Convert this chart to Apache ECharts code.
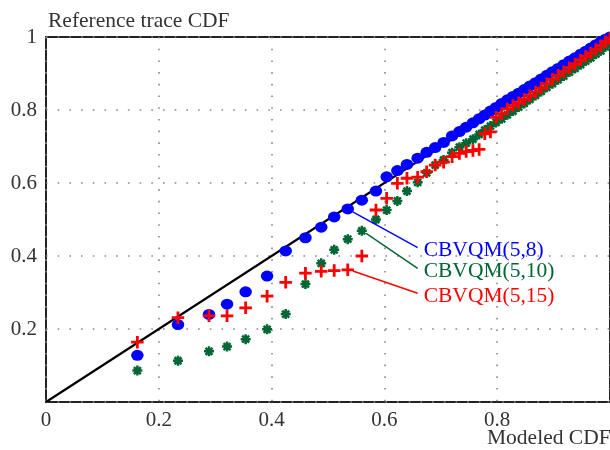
<!DOCTYPE html>
<html>
<head>
<meta charset="utf-8">
<script src="https://cdn.jsdelivr.net/npm/echarts@6/dist/echarts.min.js"></script>
<style>
html,body{margin:0;padding:0;background:#fff;}
#chart{width:610px;height:450px;}
</style>
</head>
<body>
<div id="chart"></div>
<script>
// Modeled CDF (x) positions shared by all three series
var modeledCdf = [0.162,0.234,0.289,0.321,0.354,0.392,0.425,0.460,0.488,0.511,0.535,0.560,0.585,0.604,0.623,0.640,0.659,0.675,0.690,0.705,0.720,
  0.733,0.745,0.757,0.768,0.778,0.788,0.798,0.808,0.818,0.828,0.838,0.848,0.858,0.868,0.878,0.888,0.898,0.908,0.918,0.928,0.938,0.948,0.957,0.966,0.975,0.984,0.992,1.000];
// Reference trace CDF (y) for each model
var cbvqm5_8 = [0.128,0.212,0.240,0.268,0.302,0.345,0.414,0.450,0.479,0.507,0.529,0.553,0.578,0.617,0.634,0.651,0.668,0.684,0.697,0.711,0.729,
  0.741,0.753,0.765,0.776,0.786,0.797,0.807,0.818,0.828,0.837,0.846,0.856,0.866,0.875,0.885,0.895,0.905,0.914,0.924,0.934,0.943,0.953,0.961,0.970,0.979,0.987,0.994,1.000];
var cbvqm5_10 = [0.086,0.113,0.139,0.152,0.172,0.199,0.241,0.323,0.380,0.417,0.446,0.469,0.500,0.526,0.551,0.578,0.602,0.628,0.649,0.663,0.683,
  0.698,0.709,0.720,0.733,0.745,0.756,0.766,0.776,0.787,0.797,0.808,0.818,0.829,0.840,0.851,0.862,0.872,0.883,0.893,0.904,0.914,0.924,0.934,0.943,0.953,0.962,0.973,0.985];
var cbvqm5_15 = [0.164,0.231,0.236,0.236,0.258,0.290,0.328,0.353,0.358,0.360,0.362,0.400,0.526,0.558,0.599,0.613,0.616,0.631,0.649,0.657,0.672,
  0.681,0.686,0.689,0.692,0.735,0.740,0.780,0.790,0.803,0.812,0.820,0.829,0.839,0.849,0.860,0.872,0.884,0.895,0.905,0.916,0.926,0.937,0.947,0.956,0.966,0.976,0.987,0.996];
// Reference diagonal y = x
var diagonal = [[0,0],[1,1]];
// Series names and label leader lines (start point on series, end point at label)
var seriesNames = ['CBVQM(5,8)','CBVQM(5,10)','CBVQM(5,15)'];
var leaderStart = [[0.544,0.521],[0.5676,0.462],[0.544,0.359]];
var leaderEnd = [[0.659,0.423],[0.659,0.366],[0.659,0.298]];
var xTicks = [0,0.2,0.4,0.6,0.8,1];
var yTicks = [0,0.2,0.4,0.6,0.8,1];

var colors = ['#0000ff','#006633','#ff0000'];
var FONT = '"Liberation Serif","Times New Roman",serif';

function zip(xs, ys){ return xs.map(function(x,i){ return [x, ys[i]]; }); }

var chart = echarts.init(document.getElementById('chart'), null, {renderer:'canvas'});

var series = [
  {type:'line', data:diagonal, symbol:'none', lineStyle:{color:'#000', width:2.2}, silent:true, z:2},
  {type:'scatter', name:seriesNames[0], data:zip(modeledCdf, cbvqm5_8),
   symbol:'path://M0,5 A6,5 0 1,1 12,5 A6,5 0 1,1 0,5 Z', symbolSize:[12.5,11], symbolKeepAspect:false,
   itemStyle:{color:colors[0], opacity:1}, z:3},
  {type:'scatter', name:seriesNames[1], data:zip(modeledCdf, cbvqm5_10),
   symbol:'path://M5 0 L5 10 M0 5 L10 5 M1.5 1.5 L8.5 8.5 M8.5 1.5 L1.5 8.5', symbolSize:10,
   itemStyle:{color:colors[1], borderColor:colors[1], borderWidth:2.5, opacity:1}, z:3},
  {type:'scatter', name:seriesNames[2], data:zip(modeledCdf, cbvqm5_15),
   symbol:'path://M0 6 L12 6 M6 0 L6 12', symbolSize:12.5,
   itemStyle:{color:colors[2], borderColor:colors[2], borderWidth:2.8, opacity:1}, z:3}
];
for (var i=0;i<3;i++){
  series.push({
    type:'line', silent:true, z:4,
    data:[
      {value:leaderStart[i], symbolSize:0},
      {value:leaderEnd[i], symbolSize:0,
       label:{show:true, position:'right', distance:6, offset:[0,3], formatter:seriesNames[i],
              color:colors[i], fontFamily:FONT, fontSize:21.5}}
    ],
    symbol:'circle', symbolSize:0, showSymbol:true,
    lineStyle:{color:colors[i], width:1.4}
  });
}

chart.setOption({
  animation:false,
  backgroundColor:'#fff',
  grid:{left:46, top:37, width:565, height:365, show:true, borderColor:'#222', borderWidth:2, backgroundColor:'transparent'},
  xAxis:{type:'value', min:0, max:1, interval:0.2,
    axisLine:{show:false}, axisTick:{show:false},
    axisLabel:{color:'#333', fontFamily:FONT, fontSize:21, margin:8, showMaxLabel:false,
      formatter:function(v){ return xTicks.indexOf(+v.toFixed(1))>=0 ? String(+v.toFixed(1)) : ''; }},
    splitLine:{show:true, lineStyle:{color:'#888', width:1.6, type:[1.6,10.1]}}},
  yAxis:{type:'value', min:0, max:1, interval:0.2,
    axisLine:{show:false}, axisTick:{show:false},
    axisLabel:{color:'#333', fontFamily:FONT, fontSize:21, margin:9, showMinLabel:false,
      formatter:function(v){ return yTicks.indexOf(+v.toFixed(1))>=0 ? String(+v.toFixed(1)) : ''; }},
    splitLine:{show:true, lineStyle:{color:'#888', width:1.6, type:[1.6,10.1]}}},
  graphic:[
    {type:'text', left:48, top:10, style:{text:'Reference trace CDF', fill:'#333', font:'21.5px '+FONT}},
    {type:'text', left:487, top:427, style:{text:'Modeled CDF', fill:'#333', font:'21.5px '+FONT}}
  ],
  series:series
});
</script>
</body>
</html>
